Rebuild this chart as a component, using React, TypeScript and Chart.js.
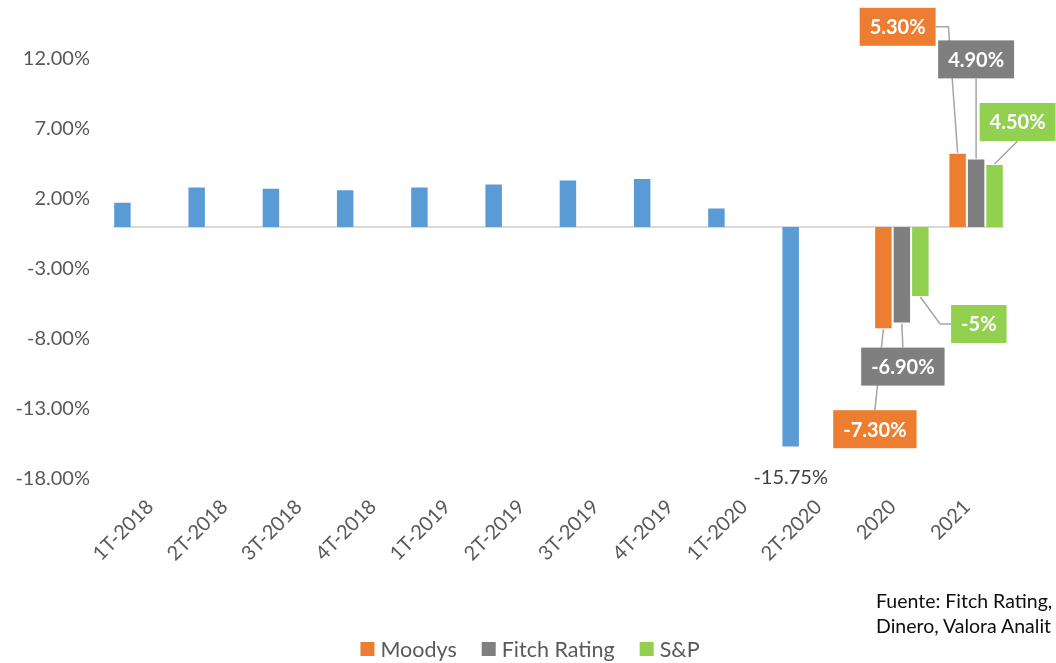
import { useEffect, useRef } from 'react';
import { Chart, registerables } from 'chart.js';

Chart.register(...registerables);

const categories = ['1T-2018', '2T-2018', '3T-2018', '4T-2018', '1T-2019', '2T-2019', '3T-2019', '4T-2019', '1T-2020', '2T-2020', '2020', '2021'];
const pibValues = [1.8, 2.9, 2.8, 2.7, 2.9, 3.1, 3.4, 3.5, 1.4, -15.75, null, null];
const moodysValues = [null, null, null, null, null, null, null, null, null, null, -7.3, 5.3];
const fitchValues = [null, null, null, null, null, null, null, null, null, null, -6.9, 4.9];
const spValues = [null, null, null, null, null, null, null, null, null, null, -5, 4.5];
const yTickValues = [-18, -13, -8, -3, 2, 7, 12];
const sourceLines = ['Fuente: Fitch Rating,', 'Dinero, Valora Analit'];

const FONT = 'Lato';

const placements: Record<string, any> = {
  'PIB|2T-2020': { dx: 0, dy: 30, plain: true },
  'Moodys|2020': { dx: -8.5, dy: 100, leader: 'straight' },
  'Moodys|2021': { dx: -60, dy: -126, leader: 'elbowRight' },
  'Fitch Rating|2020': { dx: 1, dy: 43, leader: 'straight' },
  'Fitch Rating|2021': { dx: 0, dy: -99, leader: 'straight' },
  'S&P|2020': { dx: 58.5, dy: 27, leader: 'elbowLeft', decimals: 0 },
  'S&P|2021': { dx: 23, dy: -42, leader: 'straight' },
};

const fmtPct = (v: number, d: number) => v.toFixed(d) + '%';

const zeroLinePlugin = {
  id: 'zeroLine',
  beforeDatasetsDraw(chart: any) {
    const { ctx, chartArea } = chart;
    const y = chart.scales.y.getPixelForValue(0);
    ctx.save();
    ctx.strokeStyle = '#D9D9D9';
    ctx.lineWidth = 2;
    ctx.beginPath();
    ctx.moveTo(chartArea.left, y);
    ctx.lineTo(chartArea.right, y);
    ctx.stroke();
    ctx.restore();
  },
};

const calloutPlugin = {
  id: 'callouts',
  afterDatasetsDraw(chart: any) {
    const { ctx } = chart;
    ctx.save();
    chart.data.datasets.forEach((ds: any, di: number) => {
      const meta = chart.getDatasetMeta(di);
      ds.data.forEach((v: number | null, i: number) => {
        if (v === null || v === undefined) return;
        const p = placements[ds.label + '|' + chart.data.labels[i]];
        if (!p) return;
        const el: any = meta.data[i];
        const text = fmtPct(v, p.decimals ?? 2);
        const cx = el.x + p.dx;
        const cy = el.y + p.dy;
        ctx.textAlign = 'center';
        ctx.textBaseline = 'middle';
        if (p.plain) {
          ctx.font = `20px ${FONT}`;
          ctx.fillStyle = '#404040';
          ctx.fillText(text, cx, cy);
          return;
        }
        ctx.font = `bold 20px ${FONT}`;
        const tw = ctx.measureText(text).width;
        const w = tw + 20;
        const h = 38;
        const left = cx - w / 2;
        const top = cy - h / 2;
        ctx.strokeStyle = '#A6A6A6';
        ctx.lineWidth = 1.5;
        ctx.beginPath();
        if (p.leader === 'elbowRight') {
          ctx.moveTo(left + w, cy);
          ctx.lineTo(el.x - el.width / 2, cy);
          ctx.lineTo(el.x, el.y);
        } else if (p.leader === 'elbowLeft') {
          ctx.moveTo(el.x, el.y);
          ctx.lineTo(left - 11, cy);
          ctx.lineTo(left, cy);
        } else {
          const ey = cy > el.y ? top : top + h;
          ctx.moveTo(el.x, el.y);
          ctx.lineTo(cx, ey);
        }
        ctx.stroke();
        ctx.fillStyle = ds.backgroundColor;
        ctx.fillRect(left, top, w, h);
        ctx.fillStyle = '#FFFFFF';
        ctx.fillText(text, cx, cy + 1);
      });
    });
    ctx.restore();
  },
};

const legendPlugin = {
  id: 'customLegend',
  afterDraw(chart: any) {
    const { ctx } = chart;
    const items = chart.data.datasets.filter((_: any, i: number) => i !== 0);
    ctx.save();
    ctx.font = `21.5px ${FONT}`;
    const box = 14;
    const gapText = 6;
    const gapItem = 25;
    const widths = items.map((d: any) => box + gapText + ctx.measureText(d.label).width);
    const total = widths.reduce((a: number, b: number) => a + b, 0) + gapItem * (items.length - 1);
    let x = 530 - total / 2;
    const y = 649;
    ctx.textBaseline = 'middle';
    ctx.textAlign = 'left';
    items.forEach((d: any, i: number) => {
      ctx.fillStyle = d.backgroundColor;
      ctx.fillRect(x, y - box / 2, box, box);
      ctx.fillStyle = '#595959';
      ctx.fillText(d.label, x + box + gapText, y + 1);
      x += widths[i] + gapItem;
    });
    ctx.restore();
  },
};

export default function App() {
  const ref = useRef<HTMLCanvasElement>(null);

  useEffect(() => {
    if (!ref.current) return;
    const chart = new Chart(ref.current, {
      type: 'bar',
      data: {
        labels: categories,
        datasets: [
          { label: 'PIB', data: pibValues, backgroundColor: '#5B9BD5', borderColor: 'rgba(255,255,255,0.5)', borderWidth: 1 },
          { label: 'Moodys', data: moodysValues, backgroundColor: '#ED7D31', borderColor: 'rgba(255,255,255,0.5)', borderWidth: 1 },
          { label: 'Fitch Rating', data: fitchValues, backgroundColor: '#7F7F7F', borderColor: 'rgba(255,255,255,0.5)', borderWidth: 1 },
          { label: 'S&P', data: spValues, backgroundColor: '#92D050', borderColor: 'rgba(255,255,255,0.5)', borderWidth: 1 },
        ] as any,
      },
      options: {
        responsive: false,
        animation: false,
        layout: { padding: { top: 59, right: 52, left: 0, bottom: 0 } },
        datasets: { bar: { categoryPercentage: 0.995, barPercentage: 1 } },
        plugins: {
          legend: { display: false },
          tooltip: { enabled: false },
        },
        scales: {
          x: {
            grid: { display: false },
            border: { display: false },
            ticks: {
              color: '#595959',
              font: { family: FONT, size: 20 },
              minRotation: 45,
              maxRotation: 45,
              padding: 8,
              autoSkip: false,
            },
            afterFit: (s: any) => { s.height = 184; },
          },
          y: {
            min: -18,
            max: 12,
            grid: { display: false, drawTicks: false },
            border: { display: false },
            afterBuildTicks: (s: any) => { s.ticks = yTickValues.map((v) => ({ value: v })); },
            ticks: {
              color: '#595959',
              font: { family: FONT, size: 20 },
              padding: 23,
              callback: (v: any) => Number(v).toFixed(2) + '%',
            },
            afterFit: (s: any) => { s.width = 113; },
          },
        },
      } as any,
      plugins: [zeroLinePlugin, calloutPlugin, legendPlugin],
    });
    return () => chart.destroy();
  }, []);

  return (
    <div style={{ position: 'fixed', left: 0, top: 0, width: 1056, height: 663, overflow: 'hidden', background: '#fff' }}>
      <canvas ref={ref} width={1056} height={663} style={{ display: 'block' }} />
      <div
        style={{
          position: 'absolute',
          left: 876,
          top: 588,
          fontFamily: FONT,
          fontSize: 19.5,
          lineHeight: '25px',
          color: '#0D0D0D',
          whiteSpace: 'nowrap',
        }}
      >
        {sourceLines.map((l) => (
          <div key={l}>{l}</div>
        ))}
      </div>
    </div>
  );
}
